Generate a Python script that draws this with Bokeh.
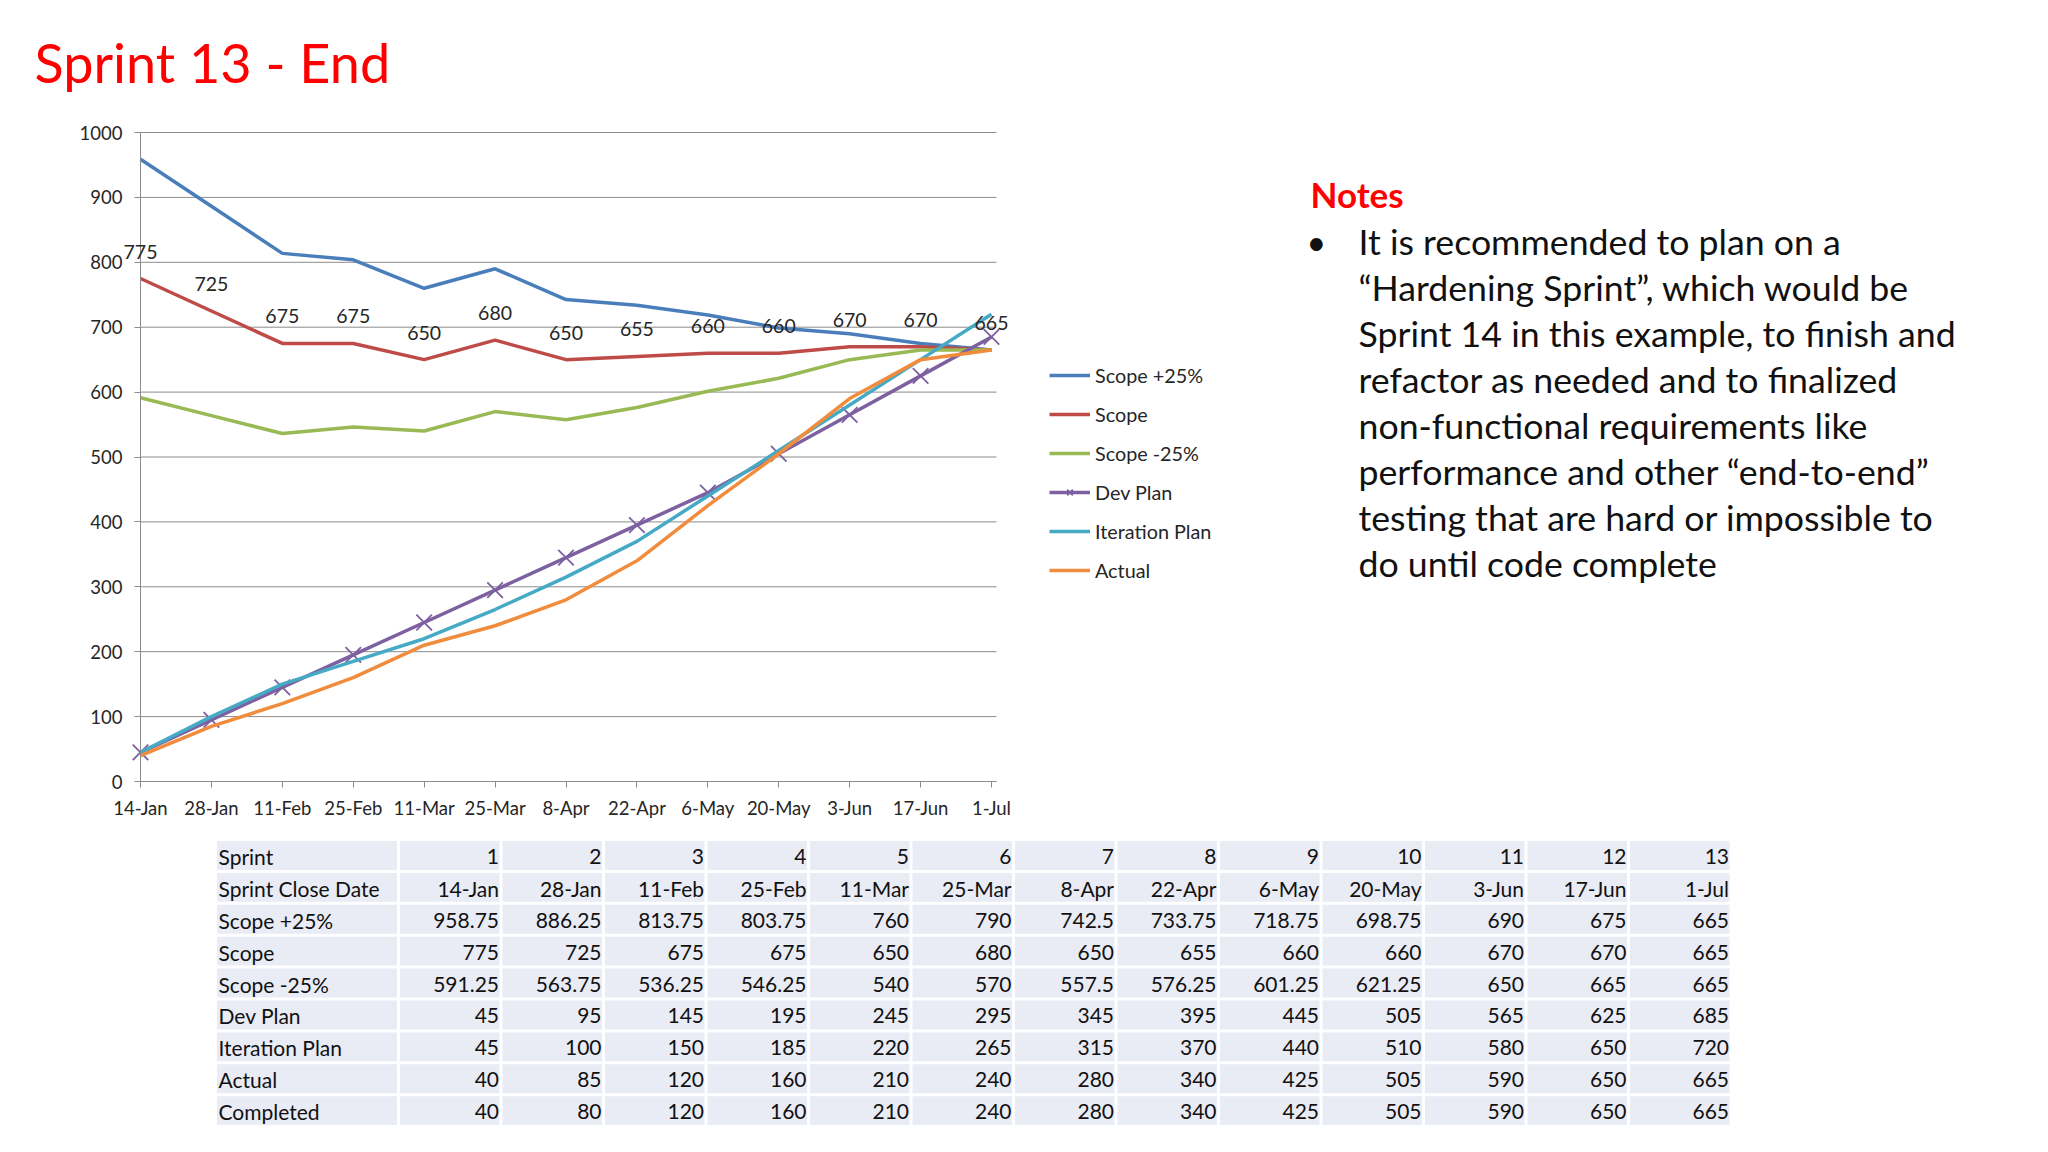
from bokeh.plotting import figure
from bokeh.models import (ColumnDataSource, Range1d, FixedTicker, Legend,
                          LegendItem, LabelSet, LinearAxis)
from bokeh.embed import file_html
from bokeh.resources import INLINE
from bokeh.core.properties import value

# ---------------- data ----------------
sprints = [1, 2, 3, 4, 5, 6, 7, 8, 9, 10, 11, 12, 13]
dates = ["14-Jan", "28-Jan", "11-Feb", "25-Feb", "11-Mar", "25-Mar", "8-Apr",
         "22-Apr", "6-May", "20-May", "3-Jun", "17-Jun", "1-Jul"]
scope_plus = [958.75, 886.25, 813.75, 803.75, 760, 790, 742.5, 733.75, 718.75,
              698.75, 690, 675, 665]
scope = [775, 725, 675, 675, 650, 680, 650, 655, 660, 660, 670, 670, 665]
scope_minus = [591.25, 563.75, 536.25, 546.25, 540, 570, 557.5, 576.25, 601.25,
               621.25, 650, 665, 665]
dev_plan = [45, 95, 145, 195, 245, 295, 345, 395, 445, 505, 565, 625, 685]
iteration_plan = [45, 100, 150, 185, 220, 265, 315, 370, 440, 510, 580, 650, 720]
actual = [40, 85, 120, 160, 210, 240, 280, 340, 425, 505, 590, 650, 665]
completed = [40, 80, 120, 160, 210, 240, 280, 340, 425, 505, 590, 650, 665]
y_ticks = [0, 100, 200, 300, 400, 500, 600, 700, 800, 900, 1000]

title_text = "Sprint 13 - End"
notes_title = "Notes"
notes_lines = [
    "It is recommended to plan on a",
    "\u201cHardening Sprint\u201d, which would be",
    "Sprint 14 in this example, to finish and",
    "refactor as needed and to finalized",
    "non-functional requirements like",
    "performance and other \u201cend-to-end\u201d",
    "testing that are hard or impossible to",
    "do until code complete",
]

FONT = "Lato"
TXT = "#262626"
GRID = "#8c8c8c"
colors = {
    "Scope +25%": "#4A7EBB",
    "Scope": "#BE4B48",
    "Scope -25%": "#98B954",
    "Dev Plan": "#7D60A0",
    "Iteration Plan": "#46AAC5",
    "Actual": "#F08C3C",
}

# ---------------- page geometry (pixels) ----------------
W, H = 2040, 1144
AX_X0, AX_X1 = 140.0, 991.0      # first / last category
AX_Y0, AX_Y1 = 781.0, 132.0      # value 0 / value 1000
PLOT_RIGHT = 996.0
x_idx = list(range(len(dates)))
step_px = (AX_X1 - AX_X0) / (len(dates) - 1)
py_per_val = (AX_Y0 - AX_Y1) / 1000.0
x_end = (PLOT_RIGHT - AX_X0) / step_px


def dx(px):
    return (px - AX_X0) / step_px


def dy(py):
    return (AX_Y0 - py) / py_per_val


p = figure(width=W, height=H, x_range=Range1d(dx(0), dx(W)),
           y_range=Range1d(dy(H), dy(0)), output_backend="svg",
           toolbar_location=None, min_border=0,
           x_axis_location=None, y_axis_location=None)
p.outline_line_color = None
p.grid.visible = False

# grid lines across the plot area
p.segment(x0=[0] * len(y_ticks), x1=[x_end] * len(y_ticks), y0=y_ticks,
          y1=y_ticks, line_color=GRID, line_width=1)

yaxis = LinearAxis(fixed_location=0, bounds=(0, 1000),
                   ticker=FixedTicker(ticks=y_ticks))
xaxis = LinearAxis(fixed_location=0, bounds=(0, x_end),
                   ticker=FixedTicker(ticks=x_idx))
xaxis.major_label_overrides = {i: d for i, d in enumerate(dates)}
for ax in (xaxis, yaxis):
    ax.axis_line_color = GRID
    ax.major_tick_line_color = GRID
    ax.major_tick_out = 6
    ax.major_tick_in = 0
    ax.minor_tick_line_color = None
    ax.major_label_text_font = FONT
    ax.major_label_text_font_size = "18.5px"
    ax.major_label_text_color = TXT
yaxis.major_label_standoff = 12
xaxis.major_label_standoff = 9
p.add_layout(yaxis, "left")
p.add_layout(xaxis, "below")

series = [("Scope +25%", scope_plus), ("Scope", scope),
          ("Scope -25%", scope_minus), ("Dev Plan", dev_plan),
          ("Iteration Plan", iteration_plan), ("Actual", actual)]
items = []
for name, vals in series:
    r = p.line(x_idx, vals, line_color=colors[name], line_width=3.5)
    rs = [r]
    if name == "Dev Plan":
        m = p.scatter(x_idx, vals, marker="x", size=22,
                      line_color=colors[name], line_width=1.8)
        rs.append(m)
    items.append(LegendItem(label=name, renderers=rs))

src_scope = ColumnDataSource(dict(x=x_idx, y=scope, t=[str(v) for v in scope]))
p.add_layout(LabelSet(x="x", y="y", text="t", source=src_scope, y_offset=27,
                      text_align="center", text_baseline="middle",
                      text_font=value(FONT), text_font_size="19.5px",
                      text_color=TXT))

legend = Legend(items=items, location=(1049, 562), orientation="vertical",
                glyph_width=41, glyph_height=20, label_height=20, spacing=15,
                label_standoff=5, padding=0, margin=0,
                label_text_font=FONT, label_text_font_size="19.8px",
                label_text_color=TXT, border_line_color=None,
                background_fill_alpha=0)
p.add_layout(legend)

# ---------------- title & notes ----------------
p.text(x=[dx(34)], y=[dy(62)], text=[title_text], text_font=value(FONT),
       text_font_size="54px", text_color="#FF0000",
       text_baseline="alphabetic", text_align="left")
p.text(x=[dx(1310)], y=[dy(193)], text=[notes_title], text_font=value(FONT),
       text_font_size="35px", text_font_style="bold", text_color="#FF0000",
       text_baseline="alphabetic", text_align="left")
p.text(x=[dx(1306)], y=[dy(241)], text=["\u2022"], text_font=value(FONT),
       text_font_size="34px", text_color="#111111",
       text_baseline="alphabetic", text_align="left")
p.text(x=[dx(1358)] * len(notes_lines),
       y=[dy(241 + 46 * k) for k in range(len(notes_lines))],
       text=notes_lines, text_font=value(FONT), text_font_size="35.7px",
       text_color="#111111", text_baseline="alphabetic", text_align="left")

# ---------------- table ----------------


def fmt(v):
    return f"{v:g}"


table_rows = [
    ("Sprint", [str(s) for s in sprints]),
    ("Sprint Close Date", dates),
    ("Scope +25%", [fmt(v) for v in scope_plus]),
    ("Scope", [fmt(v) for v in scope]),
    ("Scope -25%", [fmt(v) for v in scope_minus]),
    ("Dev Plan", [fmt(v) for v in dev_plan]),
    ("Iteration Plan", [fmt(v) for v in iteration_plan]),
    ("Actual", [fmt(v) for v in actual]),
    ("Completed", [fmt(v) for v in completed]),
]

TX0, TX1, CW = 215, 398, 102.5
TY0, RH = 839, 31.9
edges = [TX0, TX1] + [TX1 + CW * (k + 1) for k in range(len(sprints))]

L, R, T, B = [], [], [], []
lx, ly, lt = [], [], []
nx, ny, nt = [], [], []
for r, (label, vals) in enumerate(table_rows):
    top = TY0 + r * RH
    for c in range(len(edges) - 1):
        L.append(dx(edges[c] + 1.5))
        R.append(dx(edges[c + 1] - 1.5))
        T.append(dy(top + 1.5))
        B.append(dy(top + RH - 1.5))
    yc = dy(top + RH / 2 + 1)
    lx.append(dx(TX0 + 3))
    ly.append(yc)
    lt.append(label)
    for c, v in enumerate(vals):
        nx.append(dx(edges[c + 2] - 2))
        ny.append(yc)
        nt.append(v)

p.quad(left=L, right=R, top=T, bottom=B, fill_color="#E9EBF5",
       line_color=None)
p.text(x=lx, y=ly, text=lt, text_align="left", text_baseline="middle",
       text_font=value(FONT), text_font_size="21px", text_color="#111111")
p.text(x=nx, y=ny, text=nt, text_align="right", text_baseline="middle",
       text_font=value(FONT), text_font_size="21px", text_color="#111111")

open("out.html", "w").write(file_html(p, INLINE))
